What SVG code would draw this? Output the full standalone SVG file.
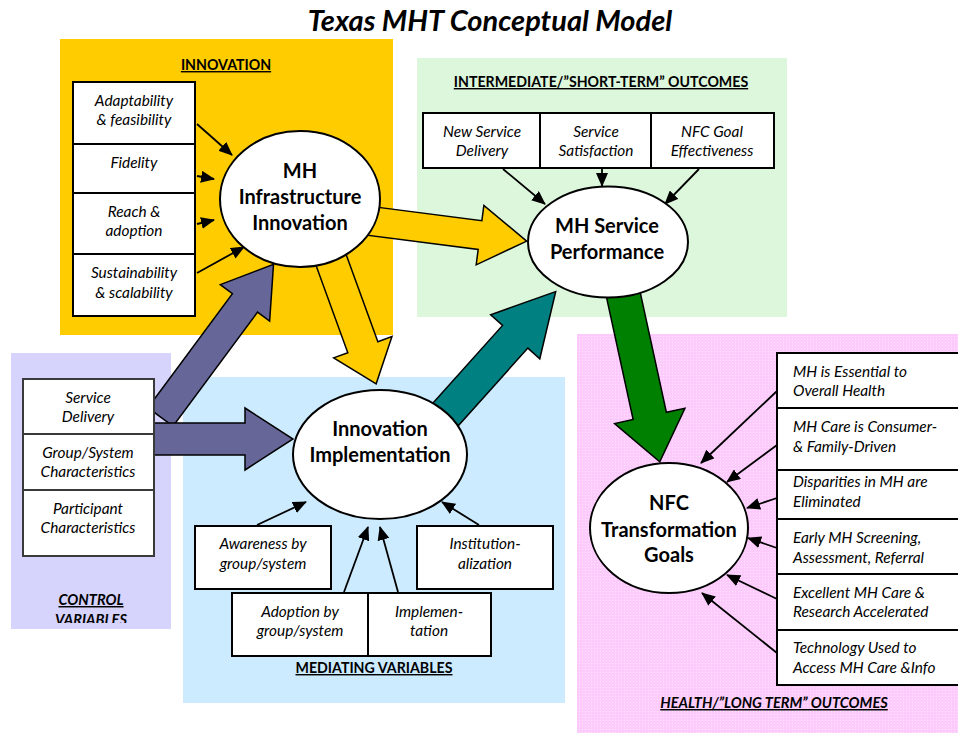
<svg xmlns="http://www.w3.org/2000/svg" width="958" height="733" viewBox="0 0 958 733">
<style>
text { font-family: Lato, "Open Sans", "Liberation Sans", sans-serif; fill: #000; }
.title { font-size: 29px; font-weight: bold; font-style: italic; text-anchor: middle; }
.hdr { font-size: 14.2px; font-weight: bold; text-decoration: underline; text-anchor: middle; }
.hdri { font-size: 14.6px; font-weight: bold; font-style: italic; text-decoration: underline; text-anchor: middle; }
.it { font-size: 15.4px; font-style: italic; text-anchor: middle; }
.itl { font-size: 15.4px; font-style: italic; }
.el { font-size: 20px; font-weight: bold; text-anchor: middle; }
.box { fill: #fff; stroke: #000; stroke-width: 2; }
.gbox { fill: #fff; stroke: #3a3a3a; stroke-width: 2; }
.ell { fill: #fff; stroke: #000; stroke-width: 2; }
.con { stroke: #000; stroke-width: 1.8; fill: none; marker-end: url(#ah); }
.blk { stroke: #000; stroke-width: 1.5; stroke-linejoin: miter; }
</style>
<defs>
<marker id="ah" markerUnits="userSpaceOnUse" markerWidth="14" markerHeight="12" refX="13" refY="6" orient="auto">
<path d="M0,0 L14,6 L0,12 z" fill="#000"/>
</marker>
<pattern id="dots" width="3" height="3" patternUnits="userSpaceOnUse">
<rect width="3" height="3" fill="#FCCBFC"/>
<rect width="1" height="1" fill="#FFE4FF"/>
</pattern>
<clipPath id="lavclip"><rect x="11" y="353" width="160" height="270"/></clipPath>
</defs>

<text class="title" x="490" y="31">Texas MHT Conceptual Model</text>

<g id="panels">
<rect x="60" y="39" width="333" height="296" fill="#FFCC00"/>
<rect x="417" y="58" width="370" height="259" fill="#DCF7DC"/>
<rect x="11" y="353" width="160" height="276" fill="#D6D4FC"/>
<rect x="183" y="377" width="382" height="326" fill="#CCEBFE"/>
<rect x="577" y="334" width="381" height="399" fill="url(#dots)"/>
</g>

<g id="connectors">
<polygon class="blk" fill="#FFCC00" transform="translate(363,220) rotate(7.35)" points="0,-14.5 118,-14.5 118,-30 165,0 118,30 118,14.5 0,14.5"/>
<polygon class="blk" fill="#FFCC00" transform="translate(330,257) rotate(70)" points="0,-16 96,-16 96,-31 135,0 96,31 96,16 0,16"/>
<polygon class="blk" fill="#666699" transform="translate(160.5,417) rotate(-53.5)" points="0,-15.6 142,-15.6 142,-30.7 190,0 142,30.7 142,15.6 0,15.6"/>
<polygon class="blk" fill="#666699" points="140,423 245,423 245,408 293,439 245,470 245,455 140,455"/>
<polygon class="blk" fill="#008080" transform="translate(428.4,433.5) rotate(-48.1)" points="0,-17 130,-17 130,-33 190.6,0 130,33 130,17 0,17"/>
<polygon class="blk" fill="#008000" transform="translate(621,284) rotate(77.7)" points="0,-17 135,-17 135,-36 182,0 135,36 135,17 0,17"/>

<line class="con" x1="197" y1="124" x2="232" y2="155"/>
<line class="con" x1="197" y1="176" x2="214" y2="179"/>
<line class="con" x1="197" y1="224" x2="214" y2="220"/>
<line class="con" x1="197" y1="273" x2="244" y2="247"/>

<line class="con" x1="503" y1="169" x2="545" y2="204"/>
<line class="con" x1="602" y1="169" x2="602" y2="186"/>
<line class="con" x1="699" y1="169" x2="665" y2="204"/>

<line class="con" x1="257" y1="525" x2="306" y2="502"/>
<line class="con" x1="344" y1="592" x2="368" y2="527"/>
<line class="con" x1="398" y1="592" x2="380" y2="527"/>
<line class="con" x1="479" y1="525" x2="442" y2="502"/>

<line class="con" x1="777" y1="391" x2="701" y2="463"/>
<line class="con" x1="777" y1="445" x2="727" y2="482"/>
<line class="con" x1="777" y1="498" x2="747" y2="508"/>
<line class="con" x1="777" y1="548" x2="748" y2="538"/>
<line class="con" x1="777" y1="599" x2="727" y2="575"/>
<line class="con" x1="777" y1="653" x2="702" y2="593"/>
</g>

<g id="innovation">
<text class="hdr" x="226" y="70">INNOVATION</text>
</g>
<g id="adaptability">
<rect class="box" x="73" y="82" width="122" height="62"/>
<text class="it" x="134" y="106">Adaptability</text>
<text class="it" x="134" y="125">&amp; feasibility</text>
</g>
<g id="fidelity">
<rect class="box" x="73" y="144" width="122" height="49"/>
<text class="it" x="134" y="168">Fidelity</text>
</g>
<g id="reach">
<rect class="box" x="73" y="193" width="122" height="61"/>
<text class="it" x="134" y="217">Reach &amp;</text>
<text class="it" x="134" y="236">adoption</text>
</g>
<g id="sustainability">
<rect class="box" x="73" y="254" width="122" height="62"/>
<text class="it" x="134" y="278">Sustainability</text>
<text class="it" x="134" y="298">&amp; scalability</text>
</g>
<g id="mh-infrastructure">
<ellipse class="ell" cx="300" cy="199" rx="80" ry="68"/>
<text class="el" x="300" y="178">MH</text>
<text class="el" x="300" y="204">Infrastructure</text>
<text class="el" x="300" y="230">Innovation</text>
</g>

<g id="short-term">
<text class="hdr" x="601" y="87">INTERMEDIATE/”SHORT-TERM” OUTCOMES</text>
</g>
<g id="new-service">
<rect class="box" x="423" y="113" width="117" height="55"/>
<text class="it" x="482" y="137">New Service</text>
<text class="it" x="482" y="156">Delivery</text>
</g>
<g id="service-satisfaction">
<rect class="box" x="540" y="113" width="111" height="55"/>
<text class="it" x="596" y="137">Service</text>
<text class="it" x="596" y="156">Satisfaction</text>
</g>
<g id="nfc-goal">
<rect class="box" x="651" y="113" width="123" height="55"/>
<text class="it" x="712" y="137">NFC Goal</text>
<text class="it" x="712" y="156">Effectiveness</text>
</g>
<g id="mh-service">
<ellipse class="ell" cx="608" cy="242" rx="80" ry="55.5"/>
<text class="el" x="607" y="233">MH Service</text>
<text class="el" x="607" y="259">Performance</text>
</g>

<g id="control">
<g clip-path="url(#lavclip)">
<text class="hdri" x="91" y="605">CONTROL</text>
<text class="hdri" x="91" y="625">VARIABLES</text>
</g>
</g>
<g id="service-delivery">
<rect class="gbox" x="23" y="379" width="131" height="55"/>
<text class="it" x="88" y="403">Service</text>
<text class="it" x="88" y="422">Delivery</text>
</g>
<g id="group-system">
<rect class="gbox" x="23" y="434" width="131" height="56"/>
<text class="it" x="88" y="458">Group/System</text>
<text class="it" x="88" y="477">Characteristics</text>
</g>
<g id="participant">
<rect class="gbox" x="23" y="490" width="131" height="66"/>
<text class="it" x="88" y="514">Participant</text>
<text class="it" x="88" y="533">Characteristics</text>
</g>

<g id="innovation-implementation">
<ellipse class="ell" cx="380" cy="454.5" rx="87" ry="64.5"/>
<text class="el" x="380" y="436">Innovation</text>
<text class="el" x="380" y="462">Implementation</text>
</g>
<g id="awareness">
<rect class="box" x="195" y="526" width="136" height="63"/>
<text class="it" x="263" y="549">Awareness by</text>
<text class="it" x="263" y="569">group/system</text>
</g>
<g id="institutionalization">
<rect class="box" x="417" y="526" width="136" height="63"/>
<text class="it" x="485" y="549">Institution-</text>
<text class="it" x="485" y="569">alization</text>
</g>
<g id="adoption">
<rect class="box" x="232" y="593" width="136" height="63"/>
<text class="it" x="300" y="617">Adoption by</text>
<text class="it" x="300" y="636">group/system</text>
</g>
<g id="implementation">
<rect class="box" x="368" y="593" width="123" height="63"/>
<text class="it" x="429" y="617">Implemen-</text>
<text class="it" x="429" y="636">tation</text>
</g>
<g id="mediating">
<text class="hdr" x="374" y="673">MEDIATING VARIABLES</text>
</g>

<g id="nfc-goals">
<ellipse class="ell" cx="669" cy="528" rx="79" ry="65"/>
<text class="el" x="669" y="510">NFC</text>
<text class="el" x="669" y="537">Transformation</text>
<text class="el" x="669" y="562">Goals</text>
</g>
<g id="goal-1">
<rect class="box" x="777" y="353" width="195" height="55"/>
<text class="itl" x="793" y="377">MH is Essential to</text>
<text class="itl" x="793" y="396">Overall Health</text>
</g>
<g id="goal-2">
<rect class="box" x="777" y="408" width="195" height="62"/>
<text class="itl" x="793" y="432">MH Care is Consumer-</text>
<text class="itl" x="793" y="452">&amp; Family-Driven</text>
</g>
<g id="goal-3">
<rect class="box" x="777" y="470" width="195" height="49"/>
<text class="itl" x="793" y="487">Disparities in MH are</text>
<text class="itl" x="793" y="507">Eliminated</text>
</g>
<g id="goal-4">
<rect class="box" x="777" y="519" width="195" height="55"/>
<text class="itl" x="793" y="543">Early MH Screening,</text>
<text class="itl" x="793" y="563">Assessment, Referral</text>
</g>
<g id="goal-5">
<rect class="box" x="777" y="574" width="195" height="56"/>
<text class="itl" x="793" y="598">Excellent MH Care &amp;</text>
<text class="itl" x="793" y="617">Research Accelerated</text>
</g>
<g id="goal-6">
<rect class="box" x="777" y="630" width="195" height="55"/>
<text class="itl" x="793" y="653">Technology Used to</text>
<text class="itl" x="793" y="673">Access MH Care &amp;Info</text>
</g>
<g id="long-term">
<text class="hdri" x="774" y="708">HEALTH/”LONG TERM” OUTCOMES</text>
</g>
</svg>
